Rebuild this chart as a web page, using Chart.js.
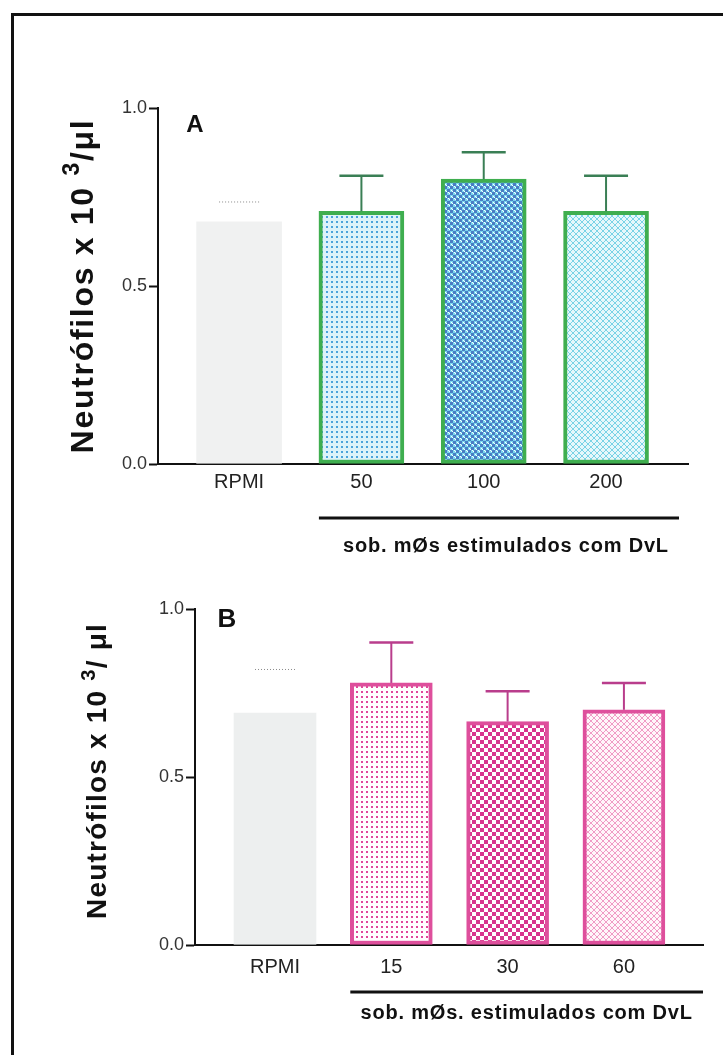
<!DOCTYPE html>
<html>
<head>
<meta charset="utf-8">
<script src="https://cdn.jsdelivr.net/npm/chart.js@4.4.1/dist/chart.umd.min.js"></script>
<style>
  html, body { margin: 0; padding: 0; background: #fff; }
  #pagina { position: relative; width: 723px; height: 1055px; overflow: hidden; }
  #moldura { position: absolute; left: 11px; top: 13px; right: -10px; bottom: -10px;
             border-top: 3px solid #111; border-left: 3px solid #111; }
  canvas { position: absolute; left: 0; }
  #graficoA { top: 0; }
  #graficoB { top: 580px; }
</style>
</head>
<body>
<div id="pagina">
  <div id="moldura"></div>
  <canvas id="graficoA" width="723" height="580" style="width:723px;height:580px"></canvas>
  <canvas id="graficoB" width="723" height="475" style="width:723px;height:475px"></canvas>
</div>
<script>
// valores
const categoriasA = ['RPMI', '50', '100', '200'];
const mediasA = [0.68, 0.71, 0.80, 0.71];
const errosA = [0.056, 0.10, 0.076, 0.10];

const categoriasB = ['RPMI', '15', '30', '60'];
const mediasB = [0.69, 0.78, 0.665, 0.70];
const errosB = [0.13, 0.12, 0.09, 0.08];

const ticksY = [0, 0.5, 1.0];

const FONTE = '"Liberation Sans", Arial, sans-serif';

function padrao(ctx, tam, desenha) {
  const c = document.createElement('canvas');
  c.width = tam;
  c.height = tam;
  const g = c.getContext('2d');
  desenha(g, tam);
  return ctx.createPattern(c, 'repeat');
}

function px(g, x, y, w, h, cor) {
  g.fillStyle = cor;
  g.fillRect(x, y, w, h);
}

function hachura(g, tam, fundo, cor) {
  px(g, 0, 0, tam, tam, fundo);
  for (let i = 0; i < tam; i++) {
    px(g, i, i, 1, 1, cor);
    px(g, tam - 1 - i, i, 1, 1, cor);
  }
}

function desenharTitulo(ctx, cx, cy, tam, espaco, partes) {
  ctx.save();
  ctx.translate(cx, cy);
  ctx.rotate(-Math.PI / 2);
  ctx.letterSpacing = espaco + 'px';
  ctx.fillStyle = '#111';
  ctx.textBaseline = 'alphabetic';
  let total = 0;
  partes.forEach(p => {
    ctx.font = `bold ${p.sup ? tam * 0.72 : tam}px ${FONTE}`;
    total += ctx.measureText(p.t).width;
  });
  let x = -total / 2;
  partes.forEach(p => {
    ctx.font = `bold ${p.sup ? tam * 0.72 : tam}px ${FONTE}`;
    ctx.fillText(p.t, x, p.sup ? -tam * 0.05 : tam * 0.36);
    x += ctx.measureText(p.t).width;
  });
  ctx.restore();
}

function criarPainel(id, cfg) {
  const ctx = document.getElementById(id).getContext('2d');

  const extras = {
    id: 'extras',
    afterDatasetsDraw(chart) {
      const c = chart.ctx;
      const x = chart.scales.x;
      const y = chart.scales.y;
      c.save();
      cfg.medias.forEach((m, i) => {
        const cx = x.getPixelForValue(i + 1);
        const yBarra = y.getPixelForValue(m);
        const yTopo = y.getPixelForValue(m + cfg.erros[i]);
        if (i === 0) {
          // controle RPMI quase apagado: só o traço pontilhado
          c.strokeStyle = '#8a8a8a';
          c.lineWidth = 1;
          c.setLineDash([1, 2]);
          c.beginPath();
          c.moveTo(cx - 20, yTopo);
          c.lineTo(cx + 20, yTopo);
          c.stroke();
          c.setLineDash([]);
          return;
        }
        c.strokeStyle = cfg.corErro;
        c.lineWidth = 2;
        c.beginPath();
        c.moveTo(cx, yBarra);
        c.lineTo(cx, yTopo);
        c.stroke();
        c.lineWidth = 2.5;
        c.beginPath();
        c.moveTo(cx - 22, yTopo);
        c.lineTo(cx + 22, yTopo);
        c.stroke();
      });
      c.restore();
    },
    afterDraw(chart) {
      const c = chart.ctx;
      const area = chart.chartArea;
      const x = chart.scales.x;

      desenharTitulo(c, cfg.tituloX, (area.top + area.bottom) / 2 + cfg.tituloDy,
        cfg.tamTitulo, cfg.espacoTitulo, cfg.titulo);

      c.save();
      c.fillStyle = '#111';
      c.font = `bold ${cfg.tamLetra}px ${FONTE}`;
      c.textAlign = 'center';
      c.textBaseline = 'middle';
      c.fillText(cfg.letra, area.left + cfg.letraDx, area.top + cfg.letraDy);

      // linha e legenda sob os grupos estimulados
      const x1 = x.getPixelForValue(2) - cfg.largura / 2;
      const x2 = area.right - cfg.recuoLinha;
      const yLinha = area.bottom + cfg.linhaDy;
      c.strokeStyle = '#111';
      c.lineWidth = 3;
      c.beginPath();
      c.moveTo(x1, yLinha);
      c.lineTo(x2, yLinha);
      c.stroke();

      c.letterSpacing = '0.8px';
      c.font = `bold 20px ${FONTE}`;
      c.fillText(cfg.legenda, (x1 + x2) / 2 + cfg.legendaDx, area.bottom + cfg.legendaDy);
      c.restore();
    }
  };

  const fundos = cfg.preenchimentos(ctx);

  return new Chart(ctx, {
    type: 'bar',
    data: {
      datasets: [{
        data: cfg.medias.map((m, i) => ({ x: i + 1, y: m })),
        backgroundColor: fundos,
        borderColor: cfg.medias.map((m, i) => i === 0 ? 'rgba(0,0,0,0)' : cfg.corBorda),
        borderWidth: cfg.medias.map((m, i) => i === 0 ? 0 : 4),
        borderSkipped: false,
        barThickness: cfg.largura
      }]
    },
    options: {
      responsive: false,
      animation: false,
      layout: { padding: { top: cfg.topo, right: cfg.direita, left: 0, bottom: 0 } },
      plugins: { legend: { display: false }, tooltip: { enabled: false } },
      scales: {
        x: {
          type: 'linear',
          offset: false,
          min: cfg.xMin,
          max: cfg.xMax,
          afterBuildTicks: s => { s.ticks = cfg.categorias.map((c, i) => ({ value: i + 1 })); },
          afterFit: s => { s.height = cfg.alturaX; },
          ticks: {
            callback: (v, i) => cfg.categorias[i],
            color: '#222',
            padding: cfg.padX,
            maxRotation: 0,
            font: { family: FONTE, size: 20 }
          },
          grid: { display: false, drawTicks: false },
          border: { display: true, color: '#111', width: 2 }
        },
        y: {
          min: 0,
          max: 1,
          afterBuildTicks: s => { s.ticks = ticksY.map(v => ({ value: v })); },
          afterFit: s => { s.width = cfg.larguraY; },
          ticks: {
            callback: v => v.toFixed(1),
            color: '#333',
            padding: 2,
            font: { family: FONTE, size: 18 }
          },
          grid: {
            drawOnChartArea: false,
            drawTicks: true,
            tickLength: 9,
            tickColor: '#111',
            tickWidth: 2
          },
          border: { display: true, color: '#111', width: 2 }
        }
      }
    },
    plugins: [extras]
  });
}

criarPainel('graficoA', {
  categorias: categoriasA,
  medias: mediasA,
  erros: errosA,
  topo: 108, direita: 35, larguraY: 158, alturaX: 116,
  xMin: 0.337, xMax: 4.67,
  largura: 85,
  padX: 6,
  corBorda: '#3fae4f',
  corErro: '#3a7f55',
  letra: 'A', tamLetra: 24, letraDx: 37, letraDy: 17,
  tituloX: 81, tituloDy: 0, tamTitulo: 32, espacoTitulo: 1.7,
  titulo: [{ t: 'Neutrófilos x 10 ' }, { t: '3', sup: true }, { t: '/μl' }],
  recuoLinha: 9, linhaDy: 54,
  legenda: 'sob. mØs estimulados com DvL', legendaDx: 7, legendaDy: 82,
  preenchimentos: ctx => [
    'rgba(236,237,237,0.8)',
    padrao(ctx, 5, g => { px(g, 0, 0, 5, 5, '#dcf3f9'); px(g, 1, 1, 2, 2, '#4aa3da'); }),
    padrao(ctx, 6, g => {
      px(g, 0, 0, 6, 6, '#7ad8ee');
      px(g, 0, 0, 3, 3, '#4a7cc4');
      px(g, 3, 3, 3, 3, '#4a7cc4');
      px(g, 4, 0, 1, 1, '#ffffff');
      px(g, 1, 4, 1, 1, '#ffffff');
      px(g, 5, 1, 1, 1, '#ffffff');
      px(g, 2, 5, 1, 1, '#ffffff');
    }),
    padrao(ctx, 6, g => hachura(g, 6, '#e6f8fb', '#79d3e6'))
  ]
});

criarPainel('graficoB', {
  categorias: categoriasB,
  medias: mediasB,
  erros: errosB,
  topo: 29, direita: 20, larguraY: 195, alturaX: 110,
  xMin: 0.312, xMax: 4.68,
  largura: 82,
  padX: 10,
  corBorda: '#de4f9c',
  corErro: '#b93d8c',
  letra: 'B', tamLetra: 26, letraDx: 32, letraDy: 11,
  tituloX: 96, tituloDy: -6, tamTitulo: 28, espacoTitulo: 1.2,
  titulo: [{ t: 'Neutrófilos x 10 ' }, { t: '3', sup: true }, { t: '/ μl' }],
  recuoLinha: 0, linhaDy: 47,
  legenda: 'sob. mØs. estimulados com DvL', legendaDx: 0, legendaDy: 68,
  preenchimentos: ctx => [
    'rgba(232,235,235,0.8)',
    padrao(ctx, 5, g => { px(g, 0, 0, 5, 5, '#ffffff'); px(g, 1, 1, 2, 2, '#e0479c'); }),
    padrao(ctx, 8, g => { px(g, 0, 0, 8, 8, '#ffffff'); px(g, 0, 0, 4, 4, '#d8358e'); px(g, 4, 4, 4, 4, '#d8358e'); }),
    padrao(ctx, 6, g => hachura(g, 6, '#fff6fa', '#f09cc6'))
  ]
});
</script>
</body>
</html>
